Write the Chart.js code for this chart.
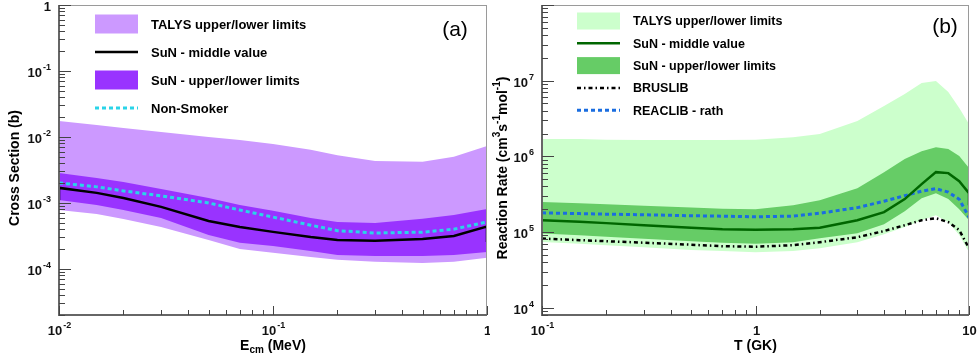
<!DOCTYPE html>
<html>
<head>
<meta charset="utf-8">
<script src="https://cdn.jsdelivr.net/npm/chart.js@4"></script>
<style>
  html, body { margin: 0; padding: 0; background: #fff; }
  #wrap { position: relative; width: 979px; height: 363px; }
  canvas { position: absolute; top: 0; }
  #left { left: 0; }
  #right { left: 490px; }
</style>
</head>
<body>
<div id="wrap">
  <canvas id="left" width="490" height="363"></canvas>
  <canvas id="right" width="489" height="363"></canvas>
</div>
<script>
// ---- panel (a): cross section (b) vs E_cm (MeV)
var energy = [0.01, 0.015, 0.02, 0.03, 0.05, 0.07, 0.1, 0.15, 0.2, 0.3, 0.5, 0.7, 1.0];
var talysUpperA = [0.0175, 0.0152, 0.0137, 0.0119, 0.0100, 0.0090, 0.0078, 0.0064, 0.0053, 0.0043, 0.0042, 0.0050, 0.0073];
var talysLowerA = [7.8e-4, 6.8e-4, 5.7e-4, 4.3e-4, 2.75e-4, 2.0e-4, 1.75e-4, 1.52e-4, 1.37e-4, 1.28e-4, 1.23e-4, 1.28e-4, 1.47e-4];
var sunUpperA = [2.85e-3, 2.39e-3, 2.08e-3, 1.63e-3, 1.19e-3, 9.3e-4, 7.6e-4, 5.9e-4, 5.15e-4, 4.98e-4, 5.73e-4, 6.58e-4, 8.1e-4];
var sunLowerA = [1.11e-3, 9.3e-4, 7.8e-4, 5.9e-4, 3.27e-4, 2.48e-4, 2.23e-4, 1.87e-4, 1.63e-4, 1.57e-4, 1.57e-4, 1.63e-4, 1.81e-4];
var sunMiddleA = [1.69e-3, 1.42e-3, 1.19e-3, 8.7e-4, 5.33e-4, 4.33e-4, 3.64e-4, 3.05e-4, 2.75e-4, 2.66e-4, 2.85e-4, 3.16e-4, 4.38e-4];
var sunMiddleEndsA = [1.1e-3, 2.56e-4];
var nonSmokerA = [2.01e-3, 1.75e-3, 1.52e-3, 1.28e-3, 1.0e-3, 7.8e-4, 6.1e-4, 4.6e-4, 3.8e-4, 3.5e-4, 3.6e-4, 4.0e-4, 5.15e-4];
var legendA = ["TALYS upper/lower limits", "SuN - middle value", "SuN - upper/lower limits", "Non-Smoker"];

// ---- panel (b): reaction rate vs T (GK)
var temp = [0.1, 0.15, 0.2, 0.3, 0.5, 0.7, 1, 1.5, 2, 3, 4, 5, 6, 7, 8, 9, 10];
var talysUpperB = [1.69e6, 1.69e6, 1.66e6, 1.64e6, 1.64e6, 1.64e6, 1.66e6, 1.79e6, 1.97e6, 2.92e6, 4.62e6, 6.65e6, 9.3e6, 9.9e6, 7.06e6, 4.34e6, 2.67e6];
var talysLowerB = [7.4e4, 7.0e4, 6.7e4, 6.3e4, 5.8e4, 5.6e4, 5.4e4, 5.6e4, 6.1e4, 7.3e4, 9.35e4, 1.16e5, 1.43e5, 1.67e5, 1.35e5, 9.1e4, 5.4e4];
var sunUpperB = [2.5e5, 2.4e5, 2.33e5, 2.23e5, 2.1e5, 2.03e5, 2.0e5, 2.26e5, 2.63e5, 3.8e5, 6.18e5, 9.2e5, 1.17e6, 1.32e6, 1.25e6, 1.01e6, 7.0e5];
var sunLowerB = [9.55e4, 9.07e4, 8.66e4, 8.15e4, 7.55e4, 7.21e4, 7.0e4, 7.33e4, 8.28e4, 9.64e4, 1.27e5, 1.88e5, 2.8e5, 3.26e5, 2.72e5, 2.0e5, 1.43e5];
var sunMiddleB = [1.43e5, 1.37e5, 1.31e5, 1.23e5, 1.14e5, 1.09e5, 1.07e5, 1.09e5, 1.14e5, 1.43e5, 1.83e5, 2.72e5, 4.29e5, 6.18e5, 6.0e5, 4.7e5, 3.26e5];
var sunMiddleEndB = 2.26e5;
var reaclibB = [1.79e5, 1.75e5, 1.72e5, 1.69e5, 1.64e5, 1.62e5, 1.59e5, 1.62e5, 1.77e5, 2.1e5, 2.55e5, 3.02e5, 3.47e5, 3.74e5, 3.36e5, 2.71e5, 1.57e5];
var bruslibB = [8.2e4, 7.8e4, 7.56e4, 7.22e4, 6.79e4, 6.49e4, 6.39e4, 6.69e4, 7.33e4, 8.53e4, 1.03e5, 1.23e5, 1.43e5, 1.52e5, 1.35e5, 1.06e5, 6.1e4];
var legendB = ["TALYS upper/lower limits", "SuN - middle value", "SuN - upper/lower limits", "BRUSLIB", "REACLIB - rath"];

var FONT = "'Liberation Sans', Arial, Helvetica, sans-serif";

function pts(xs, ys) {
  return xs.map(function (x, i) { return { x: x, y: ys[i] }; });
}

// draw "10^n" style label
function powLabel(ctx, exp, x, y, align, size) {
  var base = exp === 0 ? "1" : "10";
  var sup = (exp === 0 || exp === 1) ? "" : String(exp);
  var big = "bold " + size + "px " + FONT;
  var small = "bold " + Math.round(size * 0.72) + "px " + FONT;
  ctx.font = big;
  var wb = ctx.measureText(base).width;
  ctx.font = small;
  var ws = sup ? ctx.measureText(sup).width + 1 : 0;
  var w = wb + ws;
  var x0 = align === "right" ? x - w : x - w / 2;
  ctx.textAlign = "left";
  ctx.textBaseline = "middle";
  ctx.font = big;
  ctx.fillText(base, x0, y);
  if (sup) {
    ctx.font = small;
    ctx.fillText(sup, x0 + wb + 1, y - size * 0.45);
  }
}

// text with sub/superscript pieces, centered on (cx, cy)
function richText(ctx, segs, cx, cy, size, rot) {
  ctx.save();
  ctx.translate(cx, cy);
  ctx.rotate(rot || 0);
  ctx.textAlign = "left";
  ctx.textBaseline = "middle";
  var total = 0;
  segs.forEach(function (s) {
    ctx.font = "bold " + (s.k ? Math.round(size * 0.7) : size) + "px " + FONT;
    s.w = ctx.measureText(s.t).width;
    total += s.w;
  });
  var x = -total / 2;
  segs.forEach(function (s) {
    ctx.font = "bold " + (s.k ? Math.round(size * 0.7) : size) + "px " + FONT;
    var dy = s.k === "sup" ? -size * 0.4 : (s.k === "sub" ? size * 0.3 : 0);
    ctx.fillText(s.t, x, dy);
    x += s.w;
  });
  ctx.restore();
}

// ROOT like frame, inside ticks, labels, legend
var rootStyle = {
  id: "rootStyle",
  afterDraw: function (chart) {
    var o = chart.options.plugins.rootStyle;
    var ctx = chart.ctx;
    var a = chart.chartArea;
    var xs = chart.scales.x;
    var ys = chart.scales.y;
    ctx.save();

    // frame
    ctx.strokeStyle = "#9a9a9a";
    ctx.lineWidth = 1;
    ctx.strokeRect(a.left + 0.5, a.top + 0.5, a.right - a.left - 1, a.bottom - a.top - 1);
    ctx.strokeStyle = "#666";
    ctx.lineWidth = 2;
    ctx.beginPath();
    ctx.moveTo(a.left, a.top);
    ctx.lineTo(a.left, a.bottom);
    ctx.lineTo(a.right, a.bottom);
    ctx.stroke();

    // ticks
    ctx.strokeStyle = "#444";
    ctx.lineWidth = 1;
    ctx.fillStyle = "#111";
    var n, m, v, p;
    for (n = o.yDec[0]; n <= o.yDec[1]; n++) {
      for (m = 1; m <= 9; m++) {
        v = m * Math.pow(10, n);
        if (v < ys.min * 0.999 || v > ys.max * 1.001) continue;
        p = Math.round(ys.getPixelForValue(v)) + 0.5;
        ctx.beginPath();
        ctx.moveTo(a.left, p);
        ctx.lineTo(a.left + (m === 1 ? 12 : 6), p);
        ctx.stroke();
        if (m === 1 && o.yLabels.indexOf(n) !== -1) powLabel(ctx, n, a.left - 8, p + 2, "right", 13);
      }
    }
    for (n = o.xDec[0]; n <= o.xDec[1]; n++) {
      for (m = 1; m <= 9; m++) {
        v = m * Math.pow(10, n);
        if (v < xs.min * 0.999 || v > xs.max * 1.001) continue;
        p = Math.round(xs.getPixelForValue(v)) + 0.5;
        ctx.beginPath();
        ctx.moveTo(p, a.bottom);
        ctx.lineTo(p, a.bottom - (m === 1 ? 9 : 5));
        ctx.stroke();
        if (m === 1) powLabel(ctx, n, p, a.bottom + 16, "center", 13);
      }
    }

    // axis titles
    ctx.fillStyle = "#000";
    richText(ctx, o.xTitle, (a.left + a.right) / 2, a.bottom + 31, 14, 0);
    richText(ctx, o.yTitle, o.yTitleX, (a.top + a.bottom) / 2 + 8, 14, -Math.PI / 2);

    // panel label
    ctx.font = "21px " + FONT;
    ctx.textAlign = "center";
    ctx.textBaseline = "middle";
    ctx.fillText(o.panel[0], o.panel[1], o.panel[2]);

    // legend
    var L = o.legend;
    L.items.forEach(function (it, i) {
      var ds = chart.data.datasets[it.ds];
      var cy = L.y0 + i * L.dy;
      if (it.kind === "box") {
        ctx.fillStyle = ds.backgroundColor;
        ctx.fillRect(L.x0, cy - L.bh / 2, L.bw, L.bh);
      } else {
        ctx.strokeStyle = ds.borderColor;
        ctx.lineWidth = ds.borderWidth;
        ctx.setLineDash(ds.borderDash || []);
        ctx.beginPath();
        ctx.moveTo(L.x0, cy);
        ctx.lineTo(L.x0 + L.bw, cy);
        ctx.stroke();
        ctx.setLineDash([]);
      }
      ctx.fillStyle = "#000";
      ctx.font = "bold " + L.size + "px " + FONT;
      ctx.textAlign = "left";
      ctx.textBaseline = "middle";
      ctx.fillText(it.label, L.tx, cy + 1);
    });
    ctx.restore();
  }
};

function baseOptions(xmin, xmax, ymin, ymax, yWidth, padRight) {
  return {
    responsive: false,
    animation: false,
    events: [],
    layout: { padding: { top: 5, right: padRight, left: 0, bottom: 0 } },
    elements: { point: { radius: 0 }, line: { tension: 0 } },
    scales: {
      x: {
        type: "logarithmic", min: xmin, max: xmax,
        grid: { display: false, drawTicks: false },
        border: { display: false },
        ticks: { display: false },
        afterFit: function (s) { s.height = 48; }
      },
      y: {
        type: "logarithmic", min: ymin, max: ymax,
        grid: { display: false, drawTicks: false },
        border: { display: false },
        ticks: { display: false },
        afterFit: function (s) { s.width = yWidth; }
      }
    },
    plugins: { legend: { display: false }, tooltip: { enabled: false } }
  };
}

// ---- chart (a)
var optA = baseOptions(0.01, 1, 2e-5, 1, 59, 3);
optA.plugins.rootStyle = {
  xDec: [-2, 0], yDec: [-5, 0], yLabels: [-4, -3, -2, -1, 0],
  xTitle: [{ t: "E" }, { t: "cm", k: "sub" }, { t: " (MeV)" }],
  yTitle: [{ t: "Cross Section (b)" }],
  yTitleX: 15,
  panel: ["(a)", 455, 30],
  legend: {
    x0: 95, bw: 43, bh: 19, tx: 151, y0: 24, dy: 28, size: 13,
    items: [
      { label: legendA[0], ds: 4, kind: "box" },
      { label: legendA[1], ds: 0, kind: "line" },
      { label: legendA[2], ds: 2, kind: "box" },
      { label: legendA[3], ds: 1, kind: "line" }
    ]
  }
};

new Chart(document.getElementById("left"), {
  type: "line",
  data: {
    datasets: [
      {
        data: [{ x: energy[0], y: sunMiddleEndsA[0] }].concat(pts(energy, sunMiddleA), [{ x: energy[energy.length - 1], y: sunMiddleEndsA[1] }]),
        borderColor: "#000", borderWidth: 2.5, fill: false
      },
      { data: pts(energy, nonSmokerA), borderColor: "#2ad4e8", borderWidth: 3, borderDash: [4, 3], fill: false },
      { data: pts(energy, sunUpperA), borderWidth: 0, backgroundColor: "#9933ff", fill: "+1" },
      { data: pts(energy, sunLowerA), borderWidth: 0, fill: false },
      { data: pts(energy, talysUpperA), borderWidth: 0, backgroundColor: "#cc99ff", fill: "+1" },
      { data: pts(energy, talysLowerA), borderWidth: 0, fill: false }
    ]
  },
  options: optA,
  plugins: [rootStyle]
});

// ---- chart (b)
var optB = baseOptions(0.1, 10, 8000, 1e8, 52, 10);
optB.plugins.rootStyle = {
  xDec: [-1, 1], yDec: [3, 8], yLabels: [4, 5, 6, 7],
  xTitle: [{ t: "T (GK)" }],
  yTitle: [{ t: "Reaction Rate (cm" }, { t: "3", k: "sup" }, { t: "s" }, { t: "-1", k: "sup" }, { t: "mol" }, { t: "-1", k: "sup" }, { t: ")" }],
  yTitleX: 13,
  panel: ["(b)", 455, 27],
  legend: {
    x0: 87, bw: 43, bh: 17, tx: 143, y0: 21, dy: 22.3, size: 12.5,
    items: [
      { label: legendB[0], ds: 5, kind: "box" },
      { label: legendB[1], ds: 0, kind: "line" },
      { label: legendB[2], ds: 3, kind: "box" },
      { label: legendB[3], ds: 2, kind: "line" },
      { label: legendB[4], ds: 1, kind: "line" }
    ]
  }
};

new Chart(document.getElementById("right"), {
  type: "line",
  data: {
    datasets: [
      {
        data: pts(temp, sunMiddleB).concat([{ x: temp[temp.length - 1], y: sunMiddleEndB }]),
        borderColor: "#006600", borderWidth: 2.5, fill: false
      },
      { data: pts(temp, reaclibB), borderColor: "#1a6de0", borderWidth: 3, borderDash: [4, 3], fill: false },
      { data: pts(temp, bruslibB), borderColor: "#000", borderWidth: 2.5, borderDash: [4, 3, 1.5, 3], fill: false },
      { data: pts(temp, sunUpperB), borderWidth: 0, backgroundColor: "#66cc66", fill: "+1" },
      { data: pts(temp, sunLowerB), borderWidth: 0, fill: false },
      { data: pts(temp, talysUpperB), borderWidth: 0, backgroundColor: "#ccffcc", fill: "+1" },
      { data: pts(temp, talysLowerB), borderWidth: 0, fill: false }
    ]
  },
  options: optB,
  plugins: [rootStyle]
});
</script>
</body>
</html>
